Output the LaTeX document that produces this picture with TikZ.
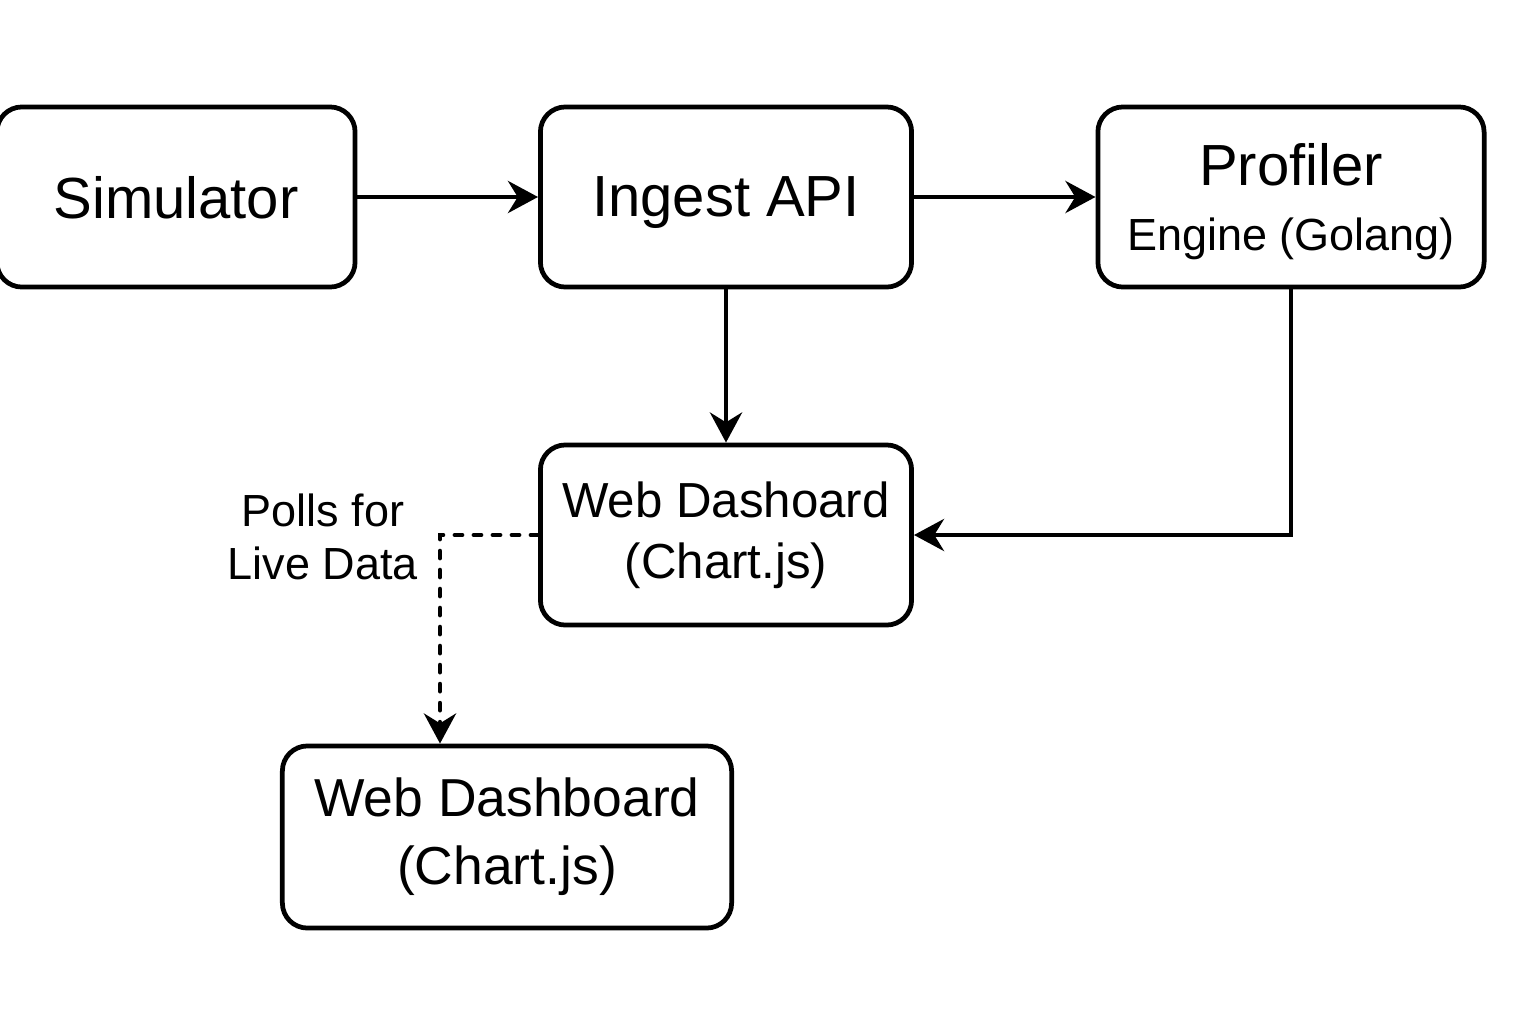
\documentclass[tikz,border=0pt]{standalone}
\usepackage{fontspec}
\setmainfont{Liberation Sans}
\usetikzlibrary{arrows.meta}

\begin{document}
\begin{tikzpicture}[x=0.01cm,y=-0.01cm,
	block/.style={rectangle,draw,rounded corners=0.25cm,line width=1.35pt,align=center,inner sep=0pt},
	big/.style={font=\fontsize{16.5}{20}\selectfont,text depth=0pt},
	flow/.style={-{Stealth[length=0.3cm,width=0.32cm]},line width=1.35pt},
	poll/.style={flow,line cap=round,dash pattern=on 0.07cm off 0.12cm}]

		\useasboundingbox (0,0) rectangle (1536,1024);

		\node[block,big,minimum width=3.58cm,minimum height=1.8cm] (sim) at (176,197) {Simulator};
		\node[block,big,minimum width=3.71cm,minimum height=1.8cm] (ingest) at (726,197) {Ingest API};
		\node[block,text depth=-0.06cm,minimum width=3.86cm,minimum height=1.8cm] (prof) at (1291,197)
			{\fontsize{16.5}{18.4}\selectfont Profiler\\[0.22cm] \fontsize{12.8}{18.4}\selectfont Engine (Golang)};
		\node[block,font=\fontsize{14}{17.3}\selectfont,minimum width=3.71cm,minimum height=1.8cm] (dash) at (726,535)
			{Web Dashoard\\(Chart.js)};
		\node[block,font=\fontsize{15.2}{19.3}\selectfont,minimum width=4.49cm,minimum height=1.82cm] (board) at (507,837)
			{Web Dashboard\\(Chart.js)};
		\node[align=center,font=\fontsize{12.8}{15}\selectfont] (polls) at (323,537) {Polls for\\Live Data};
		\coordinate (turn) at (440,535);

		\draw[flow] (sim) -- (ingest);
		\draw[flow] (ingest) -- (prof);
		\draw[flow] (ingest) -- (dash);
		\draw[flow] (prof.south) |- (dash.east);
		\draw[poll] (dash.west) -- (turn) -- (turn |- board.north);

	\end{tikzpicture}
\end{document}
